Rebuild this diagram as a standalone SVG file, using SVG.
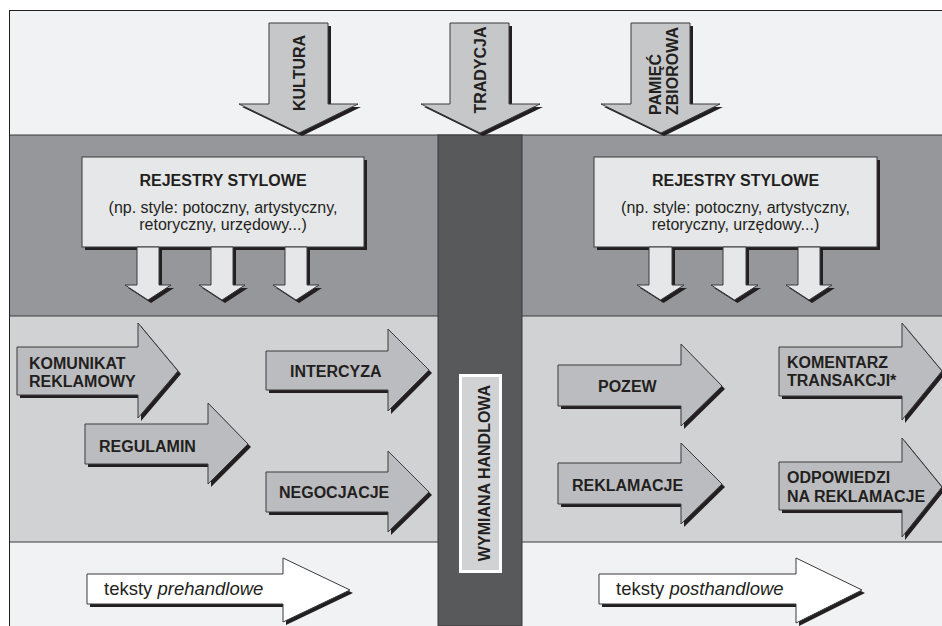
<svg xmlns="http://www.w3.org/2000/svg" width="942" height="626" viewBox="0 0 942 626">
<style>
.b{font-family:"Liberation Sans",Arial,sans-serif;font-weight:bold;font-size:16px;fill:#231f20}
.r{font-family:"Liberation Sans",Arial,sans-serif;font-size:16px;fill:#231f20}
.t{font-family:"Liberation Sans",Arial,sans-serif;font-size:18.5px;fill:#231f20}
.sh{fill:#231f20}
.big{fill:#c6c7c9;stroke:#3a3a3c;stroke-width:1}
.mid{fill:#bbbcbf;stroke:#3a3a3c;stroke-width:1}
.lt{fill:#e6e7e8;stroke:#3a3a3c;stroke-width:1}
.wh{fill:#ffffff;stroke:#3a3a3c;stroke-width:1}
</style>
<rect width="942" height="626" fill="#ffffff"/>
<g id="bands">
<rect x="9" y="10" width="933" height="125" fill="#f1f2f4"/>
<rect x="9" y="135" width="933" height="181" fill="#96979b"/>
<rect x="9" y="316" width="933" height="226" fill="#d1d2d4"/>
<rect x="9" y="542" width="933" height="84" fill="#f1f2f4"/>
<line x1="9" y1="135" x2="942" y2="135" stroke="#3a3a3c" stroke-width="1"/>
<line x1="9" y1="316" x2="942" y2="316" stroke="#3a3a3c" stroke-width="1"/>
<line x1="9" y1="542" x2="942" y2="542" stroke="#3a3a3c" stroke-width="1"/>
<line x1="9.5" y1="10" x2="9.5" y2="626" stroke="#231f20" stroke-width="1"/>
<line x1="9" y1="10.5" x2="942" y2="10.5" stroke="#231f20" stroke-width="1"/>
<rect x="438" y="135" width="84" height="491" fill="#58595b" stroke="#3a3a3c" stroke-width="1"/>
</g>
<g id="wymiana">
<rect x="460.5" y="375.5" width="40" height="196" fill="#d1d2d4" stroke="#ffffff" stroke-width="3"/>
<text class="b" text-anchor="middle" transform="translate(490,473) rotate(-90)">WYMIANA HANDLOWA</text>
</g>
<g id="kultura">
<path class="sh" transform="translate(3,3)" d="M269,23 H328 V104 H358 L299,133 L239,104 H269 Z"/>
<path class="big" d="M269,23 H328 V104 H358 L299,133 L239,104 H269 Z"/>
<text class="b" text-anchor="middle" transform="translate(305,73) rotate(-90)">KULTURA</text>
</g>
<g id="tradycja">
<path class="sh" transform="translate(3,3)" d="M450,23 H509 V104 H540 L480,133 L421,104 H450 Z"/>
<path class="big" d="M450,23 H509 V104 H540 L480,133 L421,104 H450 Z"/>
<text class="b" text-anchor="middle" transform="translate(486,70) rotate(-90)">TRADYCJA</text>
</g>
<g id="pamiec">
<path class="sh" transform="translate(3,3)" d="M631,23 H690 V104 H720 L661,133 L601,104 H631 Z"/>
<path class="big" d="M631,23 H690 V104 H720 L661,133 L601,104 H631 Z"/>
<text class="b" transform="translate(661,115) rotate(-90)">PAMIĘĆ</text>
<text class="b" transform="translate(678,115) rotate(-90)">ZBIOROWA</text>
</g>
<g id="rejestry-left">
<rect class="sh" x="85" y="160" width="282" height="90"/>
<rect class="lt" x="82" y="157" width="282" height="90"/>
<text class="b" x="223" y="186" text-anchor="middle">REJESTRY STYLOWE</text>
<text class="r" x="223" y="213" text-anchor="middle">(np. style: potoczny, artystyczny,</text>
<text class="r" x="223" y="230" text-anchor="middle">retoryczny, urzędowy...)</text>
</g>
<g id="rejestry-right">
<rect class="sh" x="597" y="160" width="283" height="90"/>
<rect class="lt" x="594" y="157" width="283" height="90"/>
<text class="b" x="735.5" y="186" text-anchor="middle">REJESTRY STYLOWE</text>
<text class="r" x="735.5" y="213" text-anchor="middle">(np. style: potoczny, artystyczny,</text>
<text class="r" x="735.5" y="230" text-anchor="middle">retoryczny, urzędowy...)</text>
</g>
<g id="connectors">
<path class="sh" transform="translate(3,3)" d="M137,247 H159 V285 H171 L148,300 L125,285 H137 Z"/>
<path class="lt" d="M137,247 H159 V285 H171 L148,300 L125,285 H137 Z"/>
<path class="sh" transform="translate(3,3)" d="M211,247 H233 V285 H245 L222,300 L199,285 H211 Z"/>
<path class="lt" d="M211,247 H233 V285 H245 L222,300 L199,285 H211 Z"/>
<path class="sh" transform="translate(3,3)" d="M285,247 H307 V285 H319 L296,300 L273,285 H285 Z"/>
<path class="lt" d="M285,247 H307 V285 H319 L296,300 L273,285 H285 Z"/>
<path class="sh" transform="translate(3,3)" d="M649,247 H672 V285 H684 L660.5,300 L637,285 H649 Z"/>
<path class="lt" d="M649,247 H672 V285 H684 L660.5,300 L637,285 H649 Z"/>
<path class="sh" transform="translate(3,3)" d="M723,247 H746 V285 H758 L734.5,300 L711,285 H723 Z"/>
<path class="lt" d="M723,247 H746 V285 H758 L734.5,300 L711,285 H723 Z"/>
<path class="sh" transform="translate(3,3)" d="M798,247 H820 V285 H832 L809,300 L786,285 H798 Z"/>
<path class="lt" d="M798,247 H820 V285 H832 L809,300 L786,285 H798 Z"/>
</g>
<g id="komunikat">
<path class="sh" transform="translate(3,3)" d="M17,347 H138 V323 L178,371 L138,418 V395 H17 Z"/>
<path class="mid" d="M17,347 H138 V323 L178,371 L138,418 V395 H17 Z"/>
<text class="b" x="29" y="369">KOMUNIKAT</text>
<text class="b" x="29" y="387">REKLAMOWY</text>
</g>
<g id="regulamin">
<path class="sh" transform="translate(3,3)" d="M85,424 H208 V403 L248,444 L208,484 V464 H85 Z"/>
<path class="mid" d="M85,424 H208 V403 L248,444 L208,484 V464 H85 Z"/>
<text class="b" x="99" y="452">REGULAMIN</text>
</g>
<g id="intercyza">
<path class="sh" transform="translate(3,3)" d="M266,351 H388 V329 L429,370 L388,411 V390 H266 Z"/>
<path class="mid" d="M266,351 H388 V329 L429,370 L388,411 V390 H266 Z"/>
<text class="b" x="290" y="377">INTERCYZA</text>
</g>
<g id="negocjacje">
<path class="sh" transform="translate(3,3)" d="M266,472 H388 V451 L429,492 L388,532 V512 H266 Z"/>
<path class="mid" d="M266,472 H388 V451 L429,492 L388,532 V512 H266 Z"/>
<text class="b" x="279" y="498">NEGOCJACJE</text>
</g>
<g id="pozew">
<path class="sh" transform="translate(3,3)" d="M558,365 H681 V344 L722,386 L681,426 V406 H558 Z"/>
<path class="mid" d="M558,365 H681 V344 L722,386 L681,426 V406 H558 Z"/>
<text class="b" x="598" y="392">POZEW</text>
</g>
<g id="reklamacje">
<path class="sh" transform="translate(3,3)" d="M558,463 H681 V443 L722,484 L681,524 V504 H558 Z"/>
<path class="mid" d="M558,463 H681 V443 L722,484 L681,524 V504 H558 Z"/>
<text class="b" x="572" y="491">REKLAMACJE</text>
</g>
<g id="komentarz">
<path class="sh" transform="translate(3,3)" d="M779,347 H902 V323 L942,371 L902,420 V396 H779 Z"/>
<path class="mid" d="M779,347 H902 V323 L942,371 L902,420 V396 H779 Z"/>
<text class="b" x="787" y="368">KOMENTARZ</text>
<text class="b" x="787" y="386">TRANSAKCJI*</text>
</g>
<g id="odpowiedzi">
<path class="sh" transform="translate(3,3)" d="M779,462 H902 V438 L942,487 L902,537 V510 H779 Z"/>
<path class="mid" d="M779,462 H902 V438 L942,487 L902,537 V510 H779 Z"/>
<text class="b" x="787" y="483">ODPOWIEDZI</text>
<text class="b" x="787" y="502">NA REKLAMACJE</text>
</g>
<g id="prehandlowe">
<path class="sh" transform="translate(3,3)" d="M87,574 H283 V558 L350,590 L283,622 V604 H87 Z"/>
<path class="wh" d="M87,574 H283 V558 L350,590 L283,622 V604 H87 Z"/>
<text class="t" x="104" y="595">teksty <tspan font-style="italic">prehandlowe</tspan></text>
</g>
<g id="posthandlowe">
<path class="sh" transform="translate(3,3)" d="M599,574 H796 V558 L862,590 L796,623 V604 H599 Z"/>
<path class="wh" d="M599,574 H796 V558 L862,590 L796,623 V604 H599 Z"/>
<text class="t" x="616" y="595">teksty <tspan font-style="italic">posthandlowe</tspan></text>
</g>
</svg>
